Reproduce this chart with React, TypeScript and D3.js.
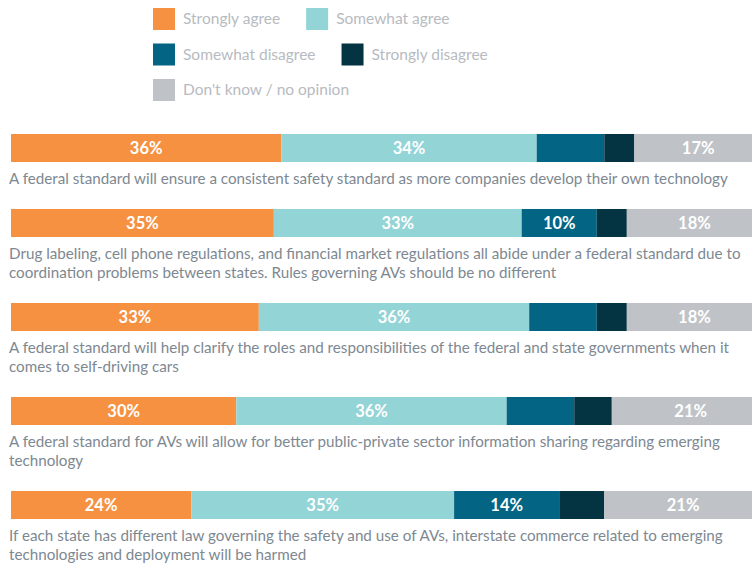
import React, { useEffect, useRef } from "react";
import * as d3 from "d3";

const categories = [
  "Strongly agree",
  "Somewhat agree",
  "Somewhat disagree",
  "Strongly disagree",
  "Don't know / no opinion",
];
const colors = ["#f79142", "#93d4d6", "#036583", "#043341", "#bfc3c7"];

const statements: string[][] = [
  ["A federal standard will ensure a consistent safety standard as more companies develop their own technology"],
  [
    "Drug labeling, cell phone regulations, and financial market regulations all abide under a federal standard due to",
    "coordination problems between states. Rules governing AVs should be no different",
  ],
  [
    "A federal standard will help clarify the roles and responsibilities of the federal and state governments when it",
    "comes to self-driving cars",
  ],
  [
    "A federal standard for AVs will allow for better public-private sector information sharing regarding emerging",
    "technology",
  ],
  [
    "If each state has different law governing the safety and use of AVs, interstate commerce related to emerging",
    "technologies and deployment will be harmed",
  ],
];

const stronglyAgree = [36, 35, 33, 30, 24];
const somewhatAgree = [34, 33, 36, 36, 35];
const somewhatDisagree = [9, 10, 9, 9, 14];
const stronglyDisagree = [4, 4, 4, 5, 6];
const dontKnow = [17, 18, 18, 21, 21];

const valueLabels: string[][] = [
  ["36%", "34%", "", "", "17%"],
  ["35%", "33%", "10%", "", "18%"],
  ["33%", "36%", "", "", "18%"],
  ["30%", "36%", "", "", "21%"],
  ["24%", "35%", "14%", "", "21%"],
];

const legendRows = [[0, 1], [2, 3], [4]];

const W = 752;
const H = 564;
const FONT = "Lato, 'Open Sans', sans-serif";

export default function App() {
  const ref = useRef<SVGSVGElement | null>(null);

  useEffect(() => {
    const svg = d3.select(ref.current);
    svg.selectAll("*").remove();

    const keys = ["sa", "wa", "wd", "sd", "dk"];
    const table = statements.map((_, i) => ({
      sa: stronglyAgree[i],
      wa: somewhatAgree[i],
      wd: somewhatDisagree[i],
      sd: stronglyDisagree[i],
      dk: dontKnow[i],
    }));
    const series = d3.stack<any>().keys(keys)(table);

    const x = d3.scaleLinear().domain([0, 100]).range([11, 762]);

    const barH = 28;
    const firstTop = 134;
    const tops: number[] = [];
    let acc = firstTop;
    statements.forEach((lines) => {
      tops.push(acc);
      acc += 56 + 19 * lines.length;
    });

    // legend
    const lg = svg.append("g");
    const legendTops = [8, 43.5, 79];
    legendRows.forEach((row, r) => {
      let cx = 153;
      row.forEach((ci) => {
        lg.append("rect")
          .attr("x", cx)
          .attr("y", legendTops[r])
          .attr("width", 22)
          .attr("height", 22)
          .attr("fill", colors[ci]);
        const t = lg
          .append("text")
          .attr("x", cx + 30)
          .attr("y", legendTops[r] + 16)
          .attr("font-family", FONT)
          .attr("font-size", 15.5)
          .attr("fill", "#b7bbbf")
          .text(categories[ci]);
        const w = (t.node() as SVGTextElement).getComputedTextLength();
        cx = cx + 30 + w + 26;
      });
    });

    // bars
    const bars = svg.append("g");
    series.forEach((s, k) => {
      bars
        .selectAll(null)
        .data(s)
        .enter()
        .append("rect")
        .attr("x", (d: any) => x(d[0]))
        .attr("y", (_d: any, i: number) => tops[i])
        .attr("width", (d: any) => x(d[1]) - x(d[0]))
        .attr("height", barH)
        .attr("fill", colors[k]);
      bars
        .selectAll(null)
        .data(s)
        .enter()
        .append("text")
        .attr("x", (d: any) => (x(d[0]) + x(d[1])) / 2)
        .attr("y", (_d: any, i: number) => tops[i] + barH / 2 + 6)
        .attr("text-anchor", "middle")
        .attr("font-family", FONT)
        .attr("font-weight", "bold")
        .attr("font-size", 16.5)
        .attr("fill", "#ffffff")
        .text((_d: any, i: number) => valueLabels[i][k]);
    });

    // statements
    const lab = svg.append("g");
    statements.forEach((lines, i) => {
      lines.forEach((line, j) => {
        lab.append("text")
          .attr("x", 9)
          .attr("y", tops[i] + barH + 22 + j * 19)
          .attr("font-family", FONT)
          .attr("font-size", 15.2)
          .attr("fill", "#7d8891")
          .text(line);
      });
    });
  }, []);

  return (
    <svg
      ref={ref}
      width={W}
      height={H}
      style={{ position: "absolute", left: 0, top: 0, background: "#fff" }}
    />
  );
}
